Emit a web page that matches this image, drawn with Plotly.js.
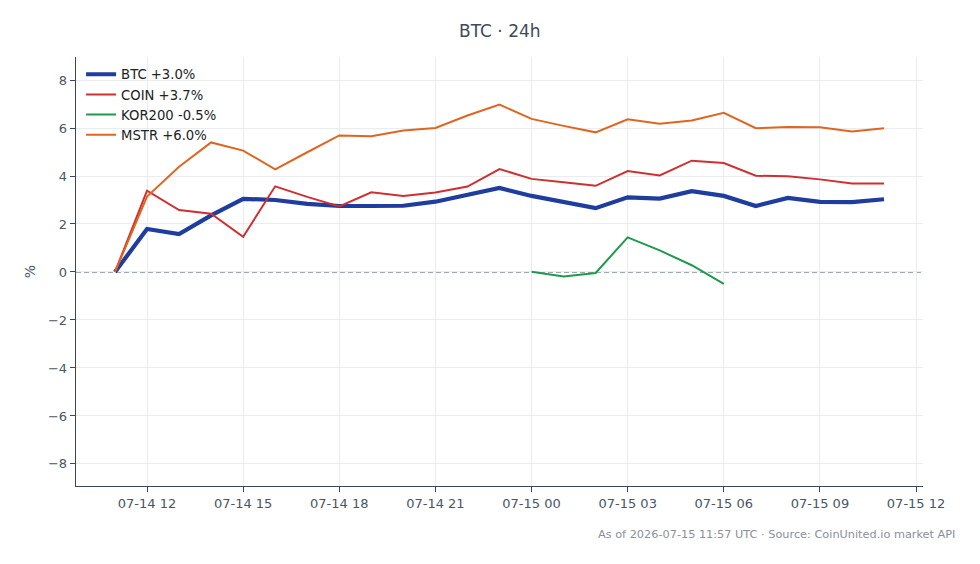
<!DOCTYPE html>
<html>
<head>
<meta charset="utf-8">
<script src="https://cdn.plot.ly/plotly-3.0.1.min.js"></script>
<style>
  html, body { margin: 0; padding: 0; background: #ffffff; }
  #chart { width: 980px; height: 564px; }
</style>
</head>
<body>
<div id="chart"></div>
<script>
// Hourly timestamps, 07-14 11:00 through 07-15 11:00 UTC
const times = [
  '2026-07-14 11:00', '2026-07-14 12:00', '2026-07-14 13:00', '2026-07-14 14:00',
  '2026-07-14 15:00', '2026-07-14 16:00', '2026-07-14 17:00', '2026-07-14 18:00',
  '2026-07-14 19:00', '2026-07-14 20:00', '2026-07-14 21:00', '2026-07-14 22:00',
  '2026-07-14 23:00', '2026-07-15 00:00', '2026-07-15 01:00', '2026-07-15 02:00',
  '2026-07-15 03:00', '2026-07-15 04:00', '2026-07-15 05:00', '2026-07-15 06:00',
  '2026-07-15 07:00', '2026-07-15 08:00', '2026-07-15 09:00', '2026-07-15 10:00',
  '2026-07-15 11:00'
];

// Percent change since the first hour
const btc = [0, 1.79, 1.58, 2.36, 3.05, 3.0, 2.84, 2.75, 2.75, 2.76, 2.93, 3.21, 3.5,
  3.17, 2.92, 2.66, 3.11, 3.06, 3.37, 3.17, 2.75, 3.09, 2.92, 2.91, 3.03];
const coin = [0, 3.39, 2.58, 2.43, 1.47, 3.57, 3.13, 2.73, 3.32, 3.17, 3.31, 3.56, 4.29,
  3.88, 3.74, 3.59, 4.21, 4.02, 4.64, 4.54, 4.01, 3.99, 3.86, 3.69, 3.69];
const mstr = [0, 3.14, 4.39, 5.4, 5.06, 4.28, 4.99, 5.69, 5.66, 5.9, 6.0, 6.52, 6.98,
  6.38, 6.09, 5.82, 6.36, 6.18, 6.31, 6.63, 5.99, 6.04, 6.03, 5.86, 5.99];
// KOR200 only trades 07-15 00:00 to 06:00
const korTimes = ['2026-07-15 00:00', '2026-07-15 01:00', '2026-07-15 02:00',
  '2026-07-15 03:00', '2026-07-15 04:00', '2026-07-15 05:00', '2026-07-15 06:00'];
const kor200 = [0.01, -0.19, -0.04, 1.44, 0.9, 0.28, -0.5];

const names = ['BTC +3.0%', 'COIN +3.7%', 'KOR200 -0.5%', 'MSTR +6.0%'];
const yTicks = [-8, -6, -4, -2, 0, 2, 4, 6, 8];

const traces = [
  { x: times, y: btc, name: names[0], mode: 'lines',
    line: { color: '#1f3d9e', width: 4.2 } },
  { x: times, y: coin, name: names[1], mode: 'lines',
    line: { color: '#d02f2f', width: 2 } },
  { x: korTimes, y: kor200, name: names[2], mode: 'lines',
    line: { color: '#1f9a4c', width: 2 } },
  { x: times, y: mstr, name: names[3], mode: 'lines',
    line: { color: '#e0651f', width: 2 } }
];

const axisColor = '#3b4656';
const tickFont = { family: 'DejaVu Sans', size: 13, color: '#4a5566' };

const layout = {
  width: 980, height: 564,
  margin: { l: 76, r: 57, t: 57, b: 78 },
  paper_bgcolor: '#ffffff', plot_bgcolor: '#ffffff',
  font: { family: 'DejaVu Sans', color: '#3d4757' },
  title: { text: 'BTC · 24h', x: 0.51, xanchor: 'center', y: 0.945, yanchor: 'middle',
    font: { family: 'DejaVu Sans', size: 17, color: '#3d4a5a' } },
  showlegend: true,
  legend: { x: 0.006, y: 0.995, xanchor: 'left', yanchor: 'top',
    bgcolor: 'rgba(255,255,255,0)', borderwidth: 0,
    font: { family: 'DejaVu Sans', size: 13.2, color: '#222222' },
    tracegroupgap: 0, itemwidth: 30 },
  xaxis: {
    type: 'date',
    range: ['2026-07-14 09:47', '2026-07-15 12:13'],
    tick0: '2026-07-14 00:00', dtick: 3 * 3600 * 1000,
    tickformat: '%m-%d %H',
    ticks: 'outside', ticklen: 5, tickcolor: axisColor, tickwidth: 1,
    showline: true, linecolor: axisColor, linewidth: 1.3,
    showgrid: true, gridcolor: '#e9ecf0', gridwidth: 1,
    zeroline: false, tickfont: tickFont
  },
  yaxis: {
    range: [-8.92, 8.96],
    tickvals: yTicks,
    ticks: 'outside', ticklen: 5, tickcolor: axisColor, tickwidth: 1,
    showline: true, linecolor: axisColor, linewidth: 1.3,
    showgrid: true, gridcolor: '#e9ecf0', gridwidth: 1,
    zeroline: false, tickfont: tickFont,
    title: { text: '%', standoff: 9, font: { family: 'DejaVu Sans', size: 14, color: '#4a5566' } }
  },
  shapes: [{
    type: 'line', xref: 'paper', x0: 0, x1: 1, yref: 'y', y0: 0, y1: 0,
    line: { color: '#7d8da1', width: 1.3, dash: '5px,3px' }, layer: 'below'
  }],
  annotations: [{
    text: 'As of 2026-07-15 11:57 UTC · Source: CoinUnited.io market API',
    xref: 'paper', yref: 'paper', x: 1.04, y: -0.114,
    xanchor: 'right', yanchor: 'middle', showarrow: false,
    font: { family: 'DejaVu Sans', size: 11.3, color: '#8a9099' }
  }]
};

Plotly.newPlot('chart', traces, layout, { displayModeBar: false, staticPlot: true });
</script>
</body>
</html>
